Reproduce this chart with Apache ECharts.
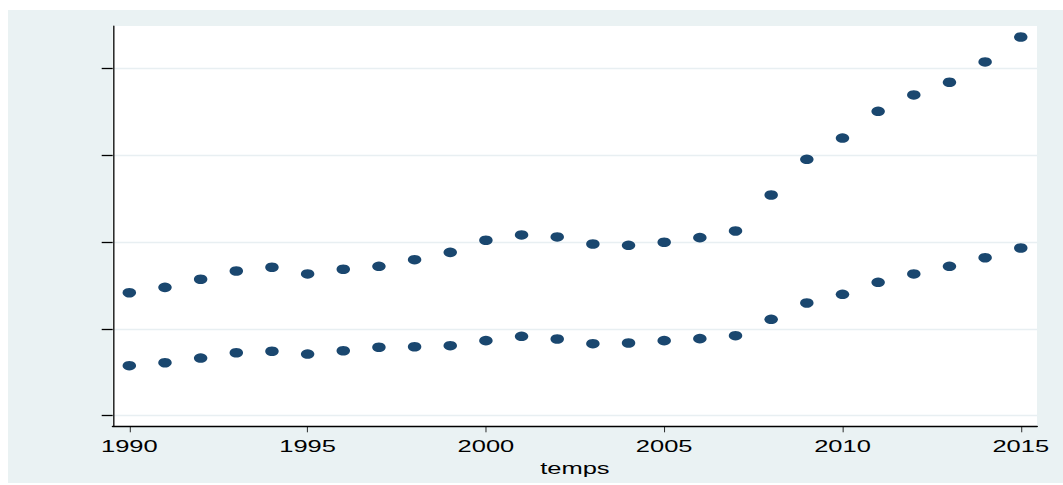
<!DOCTYPE html>
<html>
<head>
<meta charset="utf-8">
<script src="https://cdn.jsdelivr.net/npm/echarts@6/dist/echarts.min.js"></script>
<style>
  html, body { margin: 0; padding: 0; background: #ffffff; overflow: hidden; }
  #frame { position: absolute; left: 8px; top: 10px; width: 1055px; height: 473px; overflow: hidden; }
  #chart { width: 703px; height: 473px; transform-origin: 0 0; }
</style>
</head>
<body>
<div id="frame"><div id="chart"></div></div>
<script>
// Annual observations, 1990-2015
const years = [1990, 1991, 1992, 1993, 1994, 1995, 1996, 1997, 1998, 1999,
               2000, 2001, 2002, 2003, 2004, 2005, 2006, 2007, 2008, 2009,
               2010, 2011, 2012, 2013, 2014, 2015];

const upperSeries = [1.416, 1.478, 1.571, 1.666, 1.709, 1.632, 1.686, 1.720, 1.796, 1.881,
                     2.020, 2.081, 2.058, 1.977, 1.962, 1.997, 2.050, 2.127, 2.541, 2.952,
                     3.197, 3.505, 3.693, 3.839, 4.073, 4.360];

const lowerSeries = [0.576, 0.610, 0.664, 0.725, 0.742, 0.710, 0.748, 0.788, 0.794, 0.806,
                     0.864, 0.914, 0.883, 0.829, 0.837, 0.864, 0.887, 0.921, 1.110, 1.298,
                     1.398, 1.536, 1.632, 1.720, 1.819, 1.931];

const xTicks = [1990, 1995, 2000, 2005, 2010, 2015];
const yTicks = [0, 1, 2, 3, 4];

// The graph is laid out on a narrower canvas and widened horizontally,
// giving the stretched text and oval markers of the exported graph.
const FRAME_W = 1055;
const BASE_W = 703;
const sx = FRAME_W / BASE_W;
const el = document.getElementById('chart');
el.style.transform = 'scaleX(' + sx + ')';

const toPairs = (vals) => years.map((y, i) => [y, vals[i]]);
const navy = '#1a476f';

const chart = echarts.init(el, null, { renderer: 'svg' });
chart.setOption({
  animation: false,
  backgroundColor: '#eaf2f3',
  grid: {
    left: (112.7 - 8) / sx,
    right: 26 / sx,
    top: 16,
    bottom: 56.7,
    show: true,
    backgroundColor: '#ffffff',
    borderWidth: 0
  },
  xAxis: {
    type: 'value',
    min: 1989.534,
    max: 2015.455,
    name: 'temps',
    nameLocation: 'middle',
    nameGap: 29,
    nameTextStyle: { fontFamily: 'Liberation Sans', fontSize: 17, color: '#000000' },
    axisLine: { show: true, onZero: false, lineStyle: { color: '#000000', width: 1.3 } },
    axisTick: { show: true, length: 6, customValues: xTicks, lineStyle: { color: '#000000', width: 1 / sx } },
    axisLabel: {
      show: true,
      customValues: xTicks,
      formatter: (v) => String(v),
      margin: 11,
      fontFamily: 'Liberation Sans',
      fontSize: 17,
      color: '#000000'
    },
    splitLine: { show: false }
  },
  yAxis: {
    type: 'value',
    min: -0.122,
    max: 4.487,
    axisLine: { show: true, onZero: false, lineStyle: { color: '#222222', width: 1 } },
    axisTick: { show: true, length: 11 / sx, customValues: yTicks, lineStyle: { color: '#000000', width: 1.3 } },
    axisLabel: { show: false, customValues: yTicks },
    splitLine: { show: true, lineStyle: { color: '#e8eff2', width: 1.4 } }
  },
  series: [
    {
      name: 'upper',
      type: 'scatter',
      data: toPairs(upperSeries),
      symbol: 'circle',
      symbolSize: [9, 9.6],
      itemStyle: { color: navy, opacity: 1 },
      z: 3
    },
    {
      name: 'lower',
      type: 'scatter',
      data: toPairs(lowerSeries),
      symbol: 'circle',
      symbolSize: [9, 9.6],
      itemStyle: { color: navy, opacity: 1 },
      z: 3
    }
  ]
});
</script>
</body>
</html>
